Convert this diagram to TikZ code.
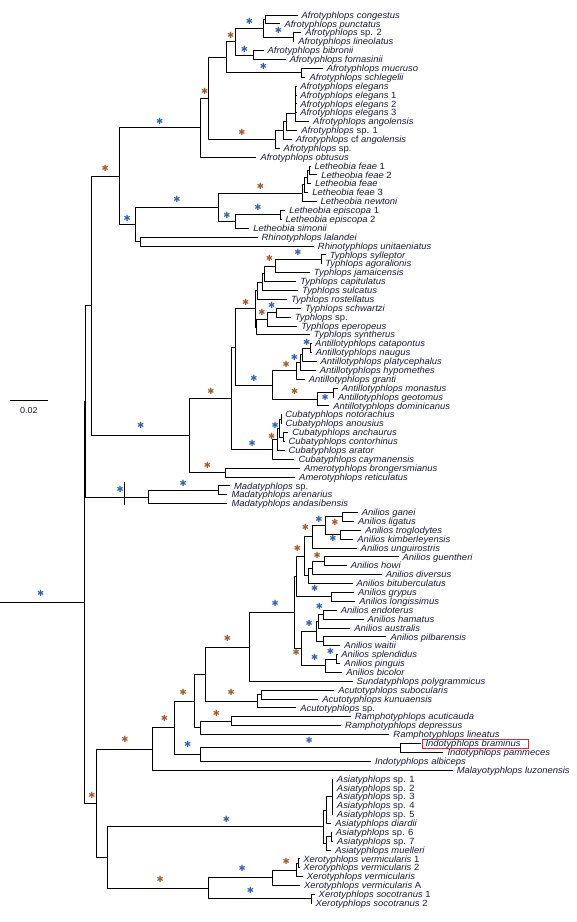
\documentclass[tikz,border=0pt]{standalone}
\usepackage{fontspec}
\setmainfont{Liberation Sans}
\newfontfamily\leaffont{Liberation Sans}[FakeStretch=1.05]
\newfontfamily\astfont{DejaVu Sans}
\usepackage{tikz}
\usetikzlibrary{calc}

\definecolor{leafcol}{RGB}{25,25,60}
\definecolor{starblue}{RGB}{45,100,180}
\definecolor{starbrown}{RGB}{165,90,40}
\definecolor{boxred}{RGB}{235,35,45}
\newcommand{\rn}[1]{{\upshape #1}}

\begin{document}
\begin{tikzpicture}[x=1.104pt, y=-8.883pt,
                branch/.style={line width=0.8pt},
                leaf/.style={anchor=west, inner xsep=3.9pt, inner ysep=0pt,
                    text height=7pt, text depth=0.6pt, text=leafcol,
                    font=\fontsize{9}{9}\leaffont\itshape},
                ast/.style={inner sep=0pt, font=\fontsize{8.5}{8.5}\selectfont\astfont}]
                \useasboundingbox (0,-0.6886) rectangle (522.64,103.105);
                % leaves
                \foreach \i/\x/\txt in {
                    1/269.5/{Afrotyphlops congestus}, 2/254/{Afrotyphlops punctatus},
                    3/272.8/{Afrotyphlops \rn{sp. 2}}, 4/266.5/{Afrotyphlops lineolatus},
                    5/238.7/{Afrotyphlops bibronii}, 6/258.8/{Afrotyphlops fornasinii},
                    7/292.3/{Afrotyphlops mucruso}, 8/276.7/{Afrotyphlops schlegelii},
                    9/268.3/{Afrotyphlops elegans}, 10/268.3/{Afrotyphlops elegans \rn{1}},
                    11/268.3/{Afrotyphlops elegans \rn{2}}, 12/268.3/{Afrotyphlops elegans \rn{3}},
                    13/280/{Afrotyphlops angolensis}, 14/269.3/{Afrotyphlops \rn{sp. 1}},
                    15/264.3/{Afrotyphlops \rn{cf} angolensis}, 16/253.3/{Afrotyphlops \rn{sp.}},
                    17/232.3/{Afrotyphlops obtusus},
                    18/281.2/{Letheobia feae \rn{1}}, 19/287.3/{Letheobia feae \rn{2}},
                    20/281.7/{Letheobia feae}, 21/279.3/{Letheobia feae \rn{3}},
                    22/286.7/{Letheobia newtoni}, 23/258.3/{Letheobia episcopa \rn{1}},
                    24/255/{Letheobia episcopa \rn{2}}, 25/225.7/{Letheobia simonii},
                    26/233.3/{Rhinotyphlops lalandei}, 27/284.3/{Rhinotyphlops unitaeniatus},
                    28/295/{Typhlops sylleptor}, 29/291/{Typhlops agoralionis},
                    30/280.7/{Typhlops jamaicensis}, 31/268.3/{Typhlops capitulatus},
                    32/270/{Typhlops sulcatus}, 33/260/{Typhlops rostellatus},
                    34/272.7/{Typhlops schwartzi}, 35/263.3/{Typhlops \rn{sp.}},
                    36/269.3/{Typhlops eperopeus}, 37/280.7/{Typhlops syntherus},
                    38/281.8/{Antillotyphlops catapontus}, 39/282.3/{Antillotyphlops naugus},
                    40/286.7/{Antillotyphlops platycephalus}, 41/286/{Antillotyphlops hypomethes},
                    42/276/{Antillotyphlops granti}, 43/306/{Antillotyphlops monastus},
                    44/302.5/{Antillotyphlops geotomus}, 45/298.3/{Antillotyphlops dominicanus},
                    46/254.8/{Cubatyphlops notorachius}, 47/255/{Cubatyphlops anousius},
                    48/261/{Cubatyphlops anchaurus}, 49/257.7/{Cubatyphlops contorhinus},
                    50/257.7/{Cubatyphlops arator}, 51/266.7/{Cubatyphlops caymanensis},
                    52/271.7/{Amerotyphlops brongersmianus}, 53/267.3/{Amerotyphlops reticulatus},
                    54/208.3/{Madatyphlops \rn{sp.}}, 55/206/{Madatyphlops arenarius},
                    56/206/{Madatyphlops andasibensis},
                    57/324/{Anilios ganei}, 58/320.7/{Anilios ligatus},
                    59/327.3/{Anilios troglodytes}, 60/320/{Anilios kimberleyensis},
                    61/323/{Anilios unguirostris}, 62/361/{Anilios guentheri},
                    63/314/{Anilios howi}, 64/345.7/{Anilios diversus},
                    65/319.3/{Anilios bituberculatus}, 66/320.7/{Anilios grypus},
                    67/321.7/{Anilios longissimus}, 68/305/{Anilios endoterus},
                    69/329.3/{Anilios hamatus}, 70/317.3/{Anilios australis},
                    71/350/{Anilios pilbarensis}, 72/308.3/{Anilios waitii},
                    73/305.5/{Anilios splendidus}, 74/308.3/{Anilios pinguis},
                    75/310/{Anilios bicolor}, 76/319.3/{Sundatyphlops polygrammicus},
                    77/302.7/{Acutotyphlops subocularis}, 78/288.3/{Acutotyphlops kunuaensis},
                    79/268.3/{Acutotyphlops \rn{sp.}}, 80/317.7/{Ramphotyphlops acuticauda},
                    81/309/{Ramphotyphlops depressus}, 82/352.7/{Ramphotyphlops lineatus},
                    83/381.7/{Indotyphlops braminus}, 84/401.7/{Indotyphlops pammeces},
                    85/336/{Indotyphlops albiceps}, 86/410/{Malayotyphlops luzonensis},
                    87/301.5/{Asiatyphlops \rn{sp. 1}}, 88/301.5/{Asiatyphlops \rn{sp. 2}},
                    89/301.5/{Asiatyphlops \rn{sp. 3}}, 90/301.5/{Asiatyphlops \rn{sp. 4}},
                    91/301.5/{Asiatyphlops \rn{sp. 5}}, 92/300/{Asiatyphlops diardii},
                    93/300.5/{Asiatyphlops \rn{sp. 6}}, 94/301.7/{Asiatyphlops \rn{sp. 7}},
                    95/300/{Asiatyphlops muelleri},
                    96/271/{Xerotyphlops vermicularis \rn{1}}, 97/271/{Xerotyphlops vermicularis \rn{2}},
                    98/274.3/{Xerotyphlops vermicularis}, 99/271.7/{Xerotyphlops vermicularis \rn{A}},
                    100/285/{Xerotyphlops socotranus \rn{1}}, 101/282.2/{Xerotyphlops socotranus \rn{2}}}
                    \node[leaf] (l\i) at (\x,\i) {\txt};
                % internal nodes
                \foreach \n/\x/\y in {
                    A/240.7/1.5, C/265.7/3.5, B/238.7/2.5, E/229.7/5.5, D/213.3/4,
                    G/272.7/7.5, F/204.7/5.75, Q/267.7/12.06, P1/259.3/13.03,
                    P2/256.7/14.015, P3/249.3/15.01, H/189/10.38, I/181.7/13.69,
                    R1/280.7/18.5, R2/278.3/19.25, R3/275.7/20.125, R4/274/21.06,
                    U/254/23.5, T/213.3/24.25, S/197.7/22.66, Rh/127.3/26.5,
                    K/122.7/24.58, J/107.7/19.14,
                    T1/290.7/28.5, T2/249/29.25, T3/239.3/30.125, T4/237.3/31.06,
                    T5/232.7/32.03, T6/250/34.5, T7/242.3/35.25, T8/232.3/36.125,
                    T9/231.7/34.08,
                    A1/281.5/38.5, A2/274/39.25, A3/271.7/40.125, A4/268.3/41.06,
                    Ga/301.7/43.5, A6/287.3/44.25, A5/246.7/42.66, N2/213.3/38.37,
                    C1/254.5/46.5, C2/256.3/48.5, C3/253.5/47.5, C4/251.7/48.75,
                    C5/246.7/49.875, N1/210/44.12, Am/204/52.5, N0/172/48.31,
                    M1/82.7/33.73, Md1/197.7/54.5, Md2/134.3/55.25, Y/77.3/44.49,
                    An1/310/57.5, An2/308.3/59.5, An3/295/58.5, An4/282.7/59.75,
                    An7/294/62.5, An8/282.7/63.25, An9/279.3/64.125, An5/276/61.94,
                    An11/300/66.5, An10/268.3/64.22,
                    B1/292.7/68.5, B2/288.3/69.25, B3/292.7/71.5, B4/286.7/70.375,
                    B6/305/73.5, B7/295/74.25, B5/273.3/72.31, An12/266.7/68.27,
                    X5/225.7/72.135, Ac1/236.7/77.5, Ac2/233.3/78.25, X4/185.7/75.19,
                    Ra1/209.3/80.5, Ra2/181.7/81.25, X3/176/78.22,
                    I1/362.7/83.5, I2/181.7/84.25, X2/157.7/81.235, X1/138.3/83.62,
                    S1/301/89, S2/296/90.5, S3/300/93.5, S4/296/94.25, AS/293.3/92.375,
                    Xv1/270.7/96.5, Xv2/268.3/97.25, Xv3/246.7/98.125, Xs/281.7/100.5,
                    XE/189/99.31, AX/97.7/95.84, X/87.7/89.73, R0/76.3/67.11, root/0/67.11}
                    \coordinate (\n) at (\x,\y);
                % plain branches
                \foreach \p/\c in {
                    A/l1, A/l2, B/A, C/l3, C/l4, E/l5, E/l6, G/l7, G/l8,
                    Q/l9, Q/l10, Q/l11, Q/l12, Q/l13, P1/Q, P1/l14, P2/P1, P2/l15,
                    P3/P2, P3/l16, H/F, I/l17,
                    R1/l18, R1/l19, R2/R1, R2/l20, R3/R2, R3/l21, R4/R3, R4/l22,
                    U/l23, U/l24, T/l25, Rh/l26, Rh/l27, K/Rh,
                    T1/l28, T1/l29, T2/l30, T3/l31, T4/T3, T4/l32, T5/T4, T5/l33,
                    T6/l34, T6/l35, T7/l36, T8/l37, T9/T5, T9/T8,
                    A1/l38, A1/l39, A2/l40, A3/A2, A3/l41, A4/l42, Ga/l43, Ga/l44, A6/l45,
                    N1/N2, C1/l46, C1/l47, C2/l48, C2/l49, C3/C1, C3/C2, C4/l50, C5/l51,
                    Am/l52, Am/l53, Md1/l54, Md1/l55, Md2/l56, Y/M1, R0/Y,
                    An1/l57, An1/l58, An2/l59, An2/l60, An4/l61, An7/l62, An7/l63,
                    An8/l64, An9/An8, An9/l65, An5/An9, An11/l66, An11/l67, An12/An10,
                    B1/l68, B1/l69, B2/l70, B3/l71, B3/l72, B4/B2, B4/B3,
                    B6/l73, B6/l74, B7/l75,
                    X5/l76, Ac1/l77, Ac1/l78, Ac2/Ac1, Ac2/l79, Ra1/l80, Ra1/l81,
                    Ra2/l82, X3/X4, X3/Ra2, I1/l83, I1/l84, I2/l85, X1/l86, X/AX,
                    S1/l87, S1/l88, S1/l89, S1/l90, S1/l91, S2/S1, S2/l92,
                    S3/l93, S3/l94, S4/S3, S4/l95, AS/S2, AS/S4,
                    Xv1/l96, Xv1/l97, Xv2/Xv1, Xv2/l98, Xv3/l99, Xs/l100, Xs/l101}
                    \draw[branch] (\p) |- (\c);
                % supported branches
                \foreach \p/\c/\col/\dx/\dy in {
                    D/B/starblue/0/7, F/D/starbrown/0/6, B/C/starblue/0/6.5,
                    D/E/starblue/0/6, F/G/starblue/0/6, I/H/starbrown/0/7,
                    J/I/starblue/0/6, H/P3/starbrown/0/7, M1/J/starbrown/0/7.5,
                    S/R4/starbrown/0/7, K/S/starblue/0/8, T/U/starblue/0/7.5,
                    S/T/starblue/0/6.5, J/K/starblue/0/6.5,
                    T2/T1/starblue/0/6.5, T3/T2/starbrown/0/7.5, N2/T9/starbrown/0/6.5,
                    T7/T6/starblue/0/7.5, T8/T7/starbrown/0/6.5,
                    A2/A1/starblue/0/5.5, A4/A3/starblue/-3.6/5.2, A5/A4/starbrown/2/6.6,
                    N2/A5/starblue/0/6.8, A5/A6/starbrown/0/8, A6/Ga/starblue/0/-5,
                    N0/N1/starbrown/0/7, M1/N0/starblue/0/9.5,
                    C4/C3/starblue/-3.6/2.4, C5/C4/starbrown/-3.5/3.2, N1/C5/starblue/0/5.8,
                    N0/Am/starbrown/0/7.5, Md2/Md1/starblue/0/7, Y/Md2/starblue/3.3/7.6,
                    An4/An3/starblue/0/6.7, An3/An1/starbrown/0.9/-5.7,
                    An5/An4/starbrown/-2.9/9.4, An3/An2/starblue/0/-3.5,
                    An10/An5/starbrown/-3.1/8.2, An8/An7/starbrown/-1.1/6.3,
                    An10/An11/starblue/1.1/8.8, root/R0/starblue/-1.5/8.8,
                    X5/An12/starblue/3.4/8.8, B2/B1/starblue/-1.3/8, B5/B4/starblue/0/8,
                    X4/X5/starbrown/0.3/8.6, B7/B6/starblue/-0.8/7.4,
                    An12/B5/starbrown/-1.9/-4.3, B5/B7/starblue/1.1/8.4,
                    X2/X3/starbrown/-1/8.5, X4/Ac2/starbrown/0/8.8,
                    X1/X2/starbrown/1.1/9.4, Ra2/Ra1/starbrown/0.6/7.9,
                    X/X1/starbrown/0.3/9.9, X2/I2/starblue/0.3/10.2,
                    I2/I1/starblue/8.6/7.9, R0/X/starbrown/1.4/8.2,
                    AX/AS/starblue/10.5/7.2, AX/XE/starbrown/1.9/9,
                    XE/Xv3/starblue/1.7/9.5, Xv3/Xv2/starbrown/2/9,
                    XE/Xs/starblue/-9.5/8.9}
                    \draw[branch] (\p) |- node[ast, pos=0.75, xshift=\dx pt, yshift=\dy pt, text=\col] {✱} (\c);
                % tick on the Madatyphlops branch
                \coordinate (tick) at (112.7,55.25);
                \draw[branch] ([yshift=15pt]tick) -- ([yshift=-8pt]tick);
                % box round the type species
                \draw[boxred, line width=0.8pt] ($(l83.west)+(0.6,-0.507)$) rectangle ($(l83.west)+(96.6,0.507)$);
                % scale bar
                \coordinate (sb1) at (9,44.34);
                \coordinate (sb2) at (43.3,44.34);
                \draw[branch] (sb1) -- node[below=7pt, inner sep=0pt, text=leafcol, font=\fontsize{8.6}{9}\leaffont] {0.02} (sb2);
\end{tikzpicture}
\end{document}
